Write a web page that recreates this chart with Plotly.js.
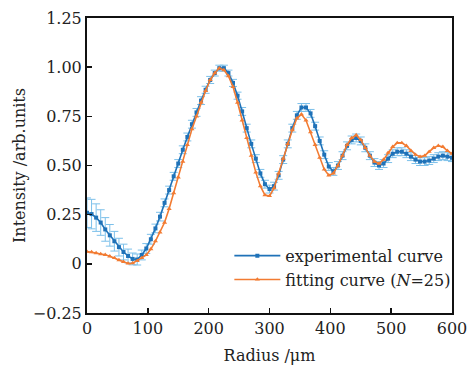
<!DOCTYPE html>
<html>
<head>
<meta charset="utf-8">
<script src="https://cdn.plot.ly/plotly-3.0.1.min.js"></script>
<style>html,body{margin:0;padding:0;background:#fff;}#chart{width:470px;height:370px;}</style>
</head>
<body>
<div id="chart"></div>
<script>
var radius = [0,7.5,15,22.5,30,37.5,45,52.5,60,67.5,75,82.5,90,97.5,105,112.5,120,127.5,135,142.5,150,157.5,165,172.5,180,187.5,195,202.5,210,217.5,225,232.5,240,247.5,255,262.5,270,277.5,285,292.5,300,307.5,315,322.5,330,337.5,345,352.5,360,367.5,375,382.5,390,397.5,405,412.5,420,427.5,435,442.5,450,457.5,465,472.5,480,487.5,495,502.5,510,517.5,525,532.5,540,547.5,555,562.5,570,577.5,585,592.5,600];
var experimental = [0.26,0.253,0.235,0.21,0.175,0.145,0.115,0.085,0.06,0.04,0.025,0.022,0.045,0.078,0.125,0.18,0.24,0.31,0.375,0.445,0.51,0.58,0.645,0.71,0.77,0.83,0.885,0.935,0.97,0.995,0.995,0.97,0.92,0.855,0.775,0.69,0.61,0.535,0.46,0.405,0.38,0.395,0.45,0.53,0.61,0.69,0.755,0.795,0.795,0.765,0.70,0.625,0.555,0.495,0.47,0.50,0.55,0.60,0.63,0.64,0.625,0.59,0.55,0.515,0.50,0.51,0.535,0.56,0.57,0.57,0.56,0.545,0.53,0.52,0.52,0.525,0.535,0.545,0.55,0.545,0.54];
var expError = [0.075,0.075,0.07,0.065,0.06,0.055,0.05,0.045,0.04,0.035,0.03,0.028,0.025,0.025,0.025,0.022,0.022,0.02,0.02,0.02,0.02,0.02,0.02,0.02,0.02,0.02,0.018,0.018,0.015,0.015,0.015,0.015,0.018,0.018,0.02,0.02,0.02,0.02,0.02,0.02,0.02,0.02,0.02,0.02,0.02,0.02,0.02,0.02,0.02,0.02,0.02,0.02,0.02,0.02,0.02,0.02,0.02,0.02,0.02,0.02,0.02,0.02,0.02,0.02,0.02,0.02,0.02,0.02,0.02,0.02,0.02,0.02,0.02,0.02,0.02,0.02,0.02,0.02,0.02,0.02,0.02];
var fitting = [0.062,0.06,0.055,0.05,0.046,0.038,0.03,0.019,0.01,0.002,0.003,0.015,0.03,0.045,0.075,0.115,0.16,0.21,0.28,0.36,0.44,0.52,0.605,0.685,0.75,0.82,0.88,0.935,0.97,0.995,0.985,0.955,0.90,0.82,0.73,0.64,0.55,0.465,0.395,0.35,0.345,0.385,0.46,0.535,0.61,0.68,0.74,0.76,0.73,0.67,0.605,0.54,0.48,0.45,0.46,0.50,0.55,0.605,0.64,0.655,0.63,0.59,0.55,0.52,0.51,0.53,0.565,0.595,0.615,0.615,0.60,0.575,0.555,0.545,0.55,0.57,0.59,0.60,0.595,0.575,0.56];
var yTickVals = [-0.25,0,0.25,0.5,0.75,1.0,1.25];
var yTickText = ['\u22120.25','0','0.25','0.50','0.75','1.00','1.25'];
var xTickVals = [0,100,200,300,400,500,600];
var xTickText = ['0','100','200','300','400','500','600'];

var FONT = '"DejaVu Serif", serif';
var traces = [
  {
    x: radius, y: experimental, type: 'scatter', mode: 'lines+markers',
    name: 'experimental curve',
    line: {color: '#1f72b8', width: 1.6},
    marker: {symbol: 'square', size: 4, color: '#1f72b8'},
    error_y: {type: 'data', array: expError, visible: true, color: '#7cc0ea', thickness: 1, width: 4}
  },
  {
    x: radius, y: fitting, type: 'scatter', mode: 'lines+markers',
    name: 'fitting curve (<i>N</i>=25)',
    line: {color: '#f27b32', width: 1.6},
    marker: {symbol: 'triangle-up', size: 4.5, color: '#f27b32'}
  }
];
var layout = {
  width: 470, height: 370,
  margin: {l: 87, r: 18, t: 18, b: 57},
  paper_bgcolor: '#fff', plot_bgcolor: '#fff',
  font: {family: FONT, size: 16, color: '#222'},
  showlegend: true,
  legend: {x: 0.39, y: 0.055, xanchor: 'left', yanchor: 'bottom', itemwidth: 46, bgcolor: 'rgba(0,0,0,0)', font: {family: FONT, size: 16, color: '#222'}, tracegroupgap: 0},
  xaxis: {
    range: [0, 600], tickvals: xTickVals, ticktext: xTickText,
    ticks: 'inside', ticklen: 5, tickwidth: 1.5, tickcolor: '#111',
    showline: true, linecolor: '#111', linewidth: 2, mirror: true,
    showgrid: false, zeroline: false,
    tickfont: {family: FONT, size: 16, color: '#222'},
    title: {text: 'Radius /\u03bcm', font: {family: FONT, size: 16, color: '#222'}, standoff: 13}
  },
  yaxis: {
    range: [-0.25, 1.25], tickvals: yTickVals, ticktext: yTickText,
    ticks: 'inside', ticklen: 5, tickwidth: 1.5, tickcolor: '#111',
    showline: true, linecolor: '#111', linewidth: 2, mirror: true,
    showgrid: false, zeroline: false,
    tickfont: {family: FONT, size: 16, color: '#222'},
    title: {text: 'Intensity /arb.units', font: {family: FONT, size: 16, color: '#222'}, standoff: 3}
  }
};
Plotly.newPlot('chart', traces, layout, {displayModeBar: false, staticPlot: true});
</script>
</body>
</html>
